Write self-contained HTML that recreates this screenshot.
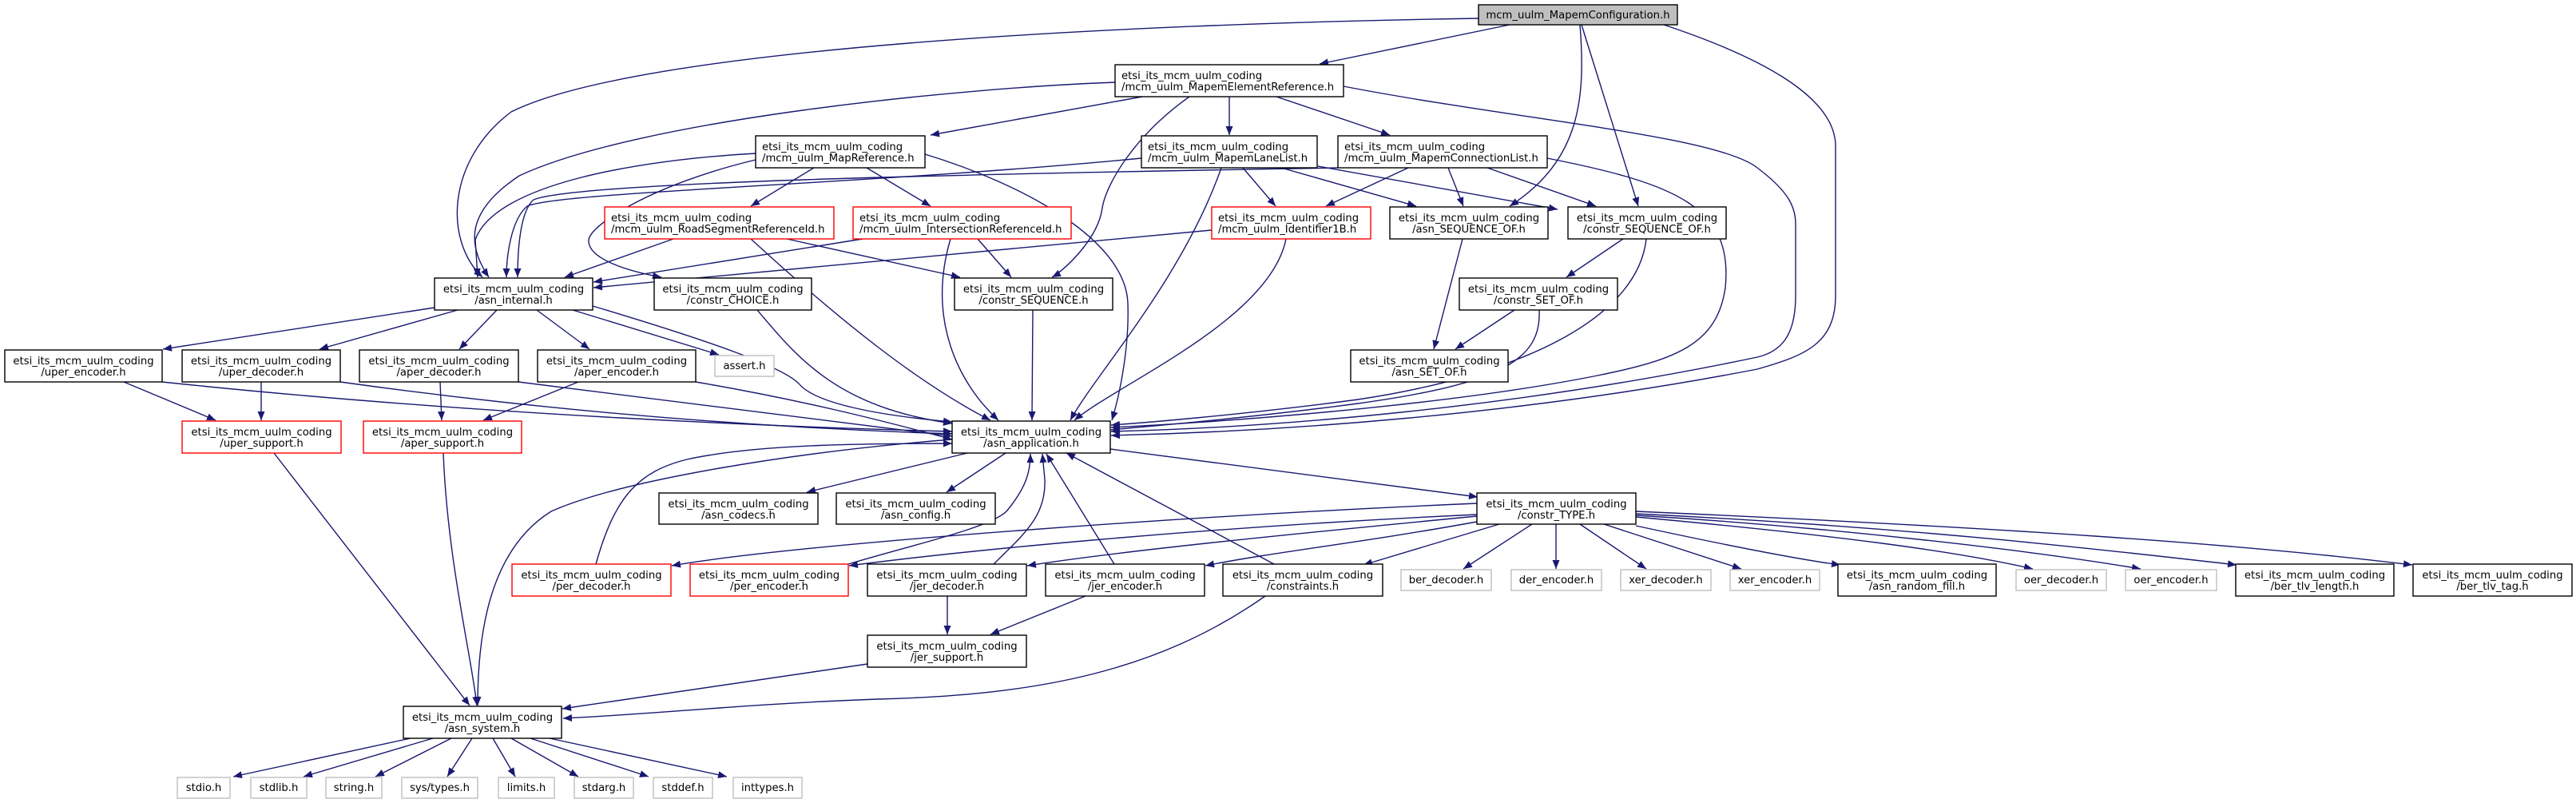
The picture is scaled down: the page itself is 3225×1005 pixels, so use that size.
<!DOCTYPE html>
<html><head><meta charset="utf-8"><style>
html,body{margin:0;padding:0;background:#fff;}
svg{display:block;}
text{font-family:"DejaVu Sans","Liberation Sans",sans-serif;font-size:13.2px;fill:#000;}
.e{fill:none;stroke:#191970;stroke-width:1.4;marker-end:url(#a);}
.n{fill:#fff;stroke:#000;stroke-width:1.4;}
.r{fill:#fff;stroke:#ff0000;stroke-width:1.4;}
.g{fill:#fff;stroke:#bfbfbf;stroke-width:1.4;}
</style></head><body>
<svg width="3225" height="1005" viewBox="0 0 3225 1005" xmlns="http://www.w3.org/2000/svg">
<defs><marker id="a" markerUnits="userSpaceOnUse" markerWidth="12" markerHeight="9" refX="11" refY="4.5" orient="auto"><path d="M0,0 L11,4.5 L0,9 z" fill="#191970"/></marker></defs>
<g>
<path class="e" d="M1890,31 L1652,80"/>
<path class="e" d="M1851,23 C1400,30 800,60 640,140 C560,200 555,300 604,347"/>
<path class="e" d="M1978,31 C1985,120 1980,200 1890,258"/>
<path class="e" d="M1980,31 L2051,258"/>
<path class="e" d="M2083,31 C2200,70 2298,120 2298,183 L2298,370 C2298,430 2260,445 2200,462 C1900,520 1600,540 1391,545"/>
<path class="e" d="M1430,121 L1165,169"/>
<path class="e" d="M1396,103 C1200,110 800,150 650,220 C590,260 580,300 612,347"/>
<path class="e" d="M1539,121 L1539,169"/>
<path class="e" d="M1598,121 L1740,169"/>
<path class="e" d="M1489,121 C1420,170 1385,230 1380,260 C1375,300 1330,340 1317,347"/>
<path class="e" d="M1682,108 C1900,150 2150,170 2200,210 C2240,240 2248,260 2248,280 L2248,370 C2248,420 2230,440 2200,447 C1900,510 1600,535 1391,540"/>
<path class="e" d="M946,192 C800,200 620,230 595,300 L598,347"/>
<path class="e" d="M946,200 C820,230 740,280 737,300 C735,325 790,340 828,347"/>
<path class="e" d="M1019,210 L940,258"/>
<path class="e" d="M1085,210 L1165,258"/>
<path class="e" d="M1158,193 C1280,230 1410,300 1412,380 C1414,440 1400,500 1392,526"/>
<path class="e" d="M1429,198 C1100,230 700,240 660,258 C640,275 634,320 634,347"/>
<path class="e" d="M1675,210 C1200,218 720,228 668,250 C650,265 648,320 648,347"/>
<path class="e" d="M1529,210 C1480,350 1370,470 1340,526"/>
<path class="e" d="M1556,210 L1597,258"/>
<path class="e" d="M1604,210 L1773,258"/>
<path class="e" d="M1650,208 L1950,262"/>
<path class="e" d="M1763,210 L1660,258"/>
<path class="e" d="M1813,210 L1832,258"/>
<path class="e" d="M1862,210 L1998,258"/>
<path class="e" d="M1937,198 C2100,230 2170,260 2160,360 C2150,430 2100,450 2000,470 C1800,510 1500,530 1391,535"/>
<path class="e" d="M843,299 L707,347"/>
<path class="e" d="M985,299 L1202,347"/>
<path class="e" d="M940,299 C1050,400 1150,480 1240,526"/>
<path class="e" d="M1080,299 L743,353"/>
<path class="e" d="M1224,299 L1266,347"/>
<path class="e" d="M1190,299 C1160,400 1200,480 1250,526"/>
<path class="e" d="M1517,288 L743,360"/>
<path class="e" d="M1610,299 C1590,400 1400,480 1345,526"/>
<path class="e" d="M1831,299 L1795,437"/>
<path class="e" d="M2032,299 L1961,347"/>
<path class="e" d="M2061,299 C2050,400 1900,470 1700,500 C1550,520 1420,530 1391,532"/>
<path class="e" d="M1896,388 L1822,437"/>
<path class="e" d="M1927,388 C1930,450 1880,480 1700,505 C1550,525 1420,535 1391,538"/>
<path class="e" d="M1293,388 L1292,526"/>
<path class="e" d="M948,388 C1000,450 1050,510 1192,530"/>
<path class="e" d="M544,385 L204,437"/>
<path class="e" d="M573,388 L400,437"/>
<path class="e" d="M622,388 L575,437"/>
<path class="e" d="M672,388 L738,437"/>
<path class="e" d="M717,388 L900,444"/>
<path class="e" d="M742,383 C900,430 980,460 1000,480 C1020,505 1100,520 1192,528"/>
<path class="e" d="M155,478 L270,526"/>
<path class="e" d="M203,478 C600,520 1000,535 1192,540"/>
<path class="e" d="M327,478 L327,526"/>
<path class="e" d="M426,478 C800,530 1100,540 1192,543"/>
<path class="e" d="M551,478 L553,526"/>
<path class="e" d="M649,478 C900,510 1100,535 1192,546"/>
<path class="e" d="M724,478 L605,526"/>
<path class="e" d="M871,478 C1000,500 1100,525 1192,550"/>
<path class="e" d="M343,567 L588,883"/>
<path class="e" d="M555,567 C560,700 590,820 597,883"/>
<path class="e" d="M1192,550 C1000,565 780,600 690,640 C610,690 598,800 598,883"/>
<path class="e" d="M746,706 C770,620 800,590 860,575 C950,555 1100,555 1192,555"/>
<path class="e" d="M1062,706 C1150,680 1240,660 1260,640 C1285,610 1290,590 1290,568"/>
<path class="e" d="M1244,706 C1280,670 1310,647 1308,600 L1305,568"/>
<path class="e" d="M1395,706 L1310,568"/>
<path class="e" d="M1595,706 L1335,567"/>
<path class="e" d="M1849,630 C1500,645 1000,680 841,708"/>
<path class="e" d="M1849,644 C1500,660 1200,690 1063,708"/>
<path class="e" d="M1849,646 C1600,670 1400,690 1286,708"/>
<path class="e" d="M1849,653 C1700,680 1600,690 1509,708"/>
<path class="e" d="M1877,656 L1707,707"/>
<path class="e" d="M1918,656 L1832,712"/>
<path class="e" d="M1948,656 L1948,712"/>
<path class="e" d="M1978,656 L2061,712"/>
<path class="e" d="M2008,656 L2180,712"/>
<path class="e" d="M2048,658 C2150,680 2250,700 2304,707"/>
<path class="e" d="M2048,647 C2300,670 2450,690 2545,712"/>
<path class="e" d="M2048,645 C2300,660 2550,690 2680,712"/>
<path class="e" d="M2048,643 C2400,660 2650,690 2800,707"/>
<path class="e" d="M2048,640 C2500,660 2800,680 3020,707"/>
<path class="e" d="M1186,746 L1186,794"/>
<path class="e" d="M1359,746 L1240,794"/>
<path class="e" d="M1086,831 L704,887"/>
<path class="e" d="M1584,746 C1450,840 1300,870 1100,875 C950,880 800,895 705,899"/>
<path class="e" d="M1211,567 L1010,616"/>
<path class="e" d="M1259,567 L1185,616"/>
<path class="e" d="M1390,562 L1850,622"/>
<path class="e" d="M514,924 L292,972"/>
<path class="e" d="M542,924 L380,972"/>
<path class="e" d="M565,924 L470,972"/>
<path class="e" d="M591,924 L560,972"/>
<path class="e" d="M617,924 L645,972"/>
<path class="e" d="M640,924 L724,972"/>
<path class="e" d="M664,924 L812,972"/>
<path class="e" d="M688,924 L910,972"/>
</g>
<g>
<rect x="1851" y="6" width="249" height="25" fill="#bfbfbf" stroke="#000" stroke-width="1.4"/>
<text x="1975.5" y="23" text-anchor="middle">mcm_uulm_MapemConfiguration.h</text>

<rect class="n" x="1396" y="81" width="286" height="40"/>
<text x="1404" y="99">etsi_its_mcm_uulm_coding</text><text x="1404" y="113">/mcm_uulm_MapemElementReference.h</text>

<rect class="n" x="946" y="170" width="212" height="40"/>
<text x="954" y="188">etsi_its_mcm_uulm_coding</text><text x="954" y="202">/mcm_uulm_MapReference.h</text>

<rect class="n" x="1429" y="170" width="220" height="40"/>
<text x="1437" y="188">etsi_its_mcm_uulm_coding</text><text x="1437" y="202">/mcm_uulm_MapemLaneList.h</text>

<rect class="n" x="1675" y="170" width="262" height="40"/>
<text x="1683" y="188">etsi_its_mcm_uulm_coding</text><text x="1683" y="202">/mcm_uulm_MapemConnectionList.h</text>

<rect class="r" x="757" y="259" width="287" height="40"/>
<text x="765" y="277">etsi_its_mcm_uulm_coding</text><text x="765" y="291">/mcm_uulm_RoadSegmentReferenceId.h</text>

<rect class="r" x="1068" y="259" width="273" height="40"/>
<text x="1076" y="277">etsi_its_mcm_uulm_coding</text><text x="1076" y="291">/mcm_uulm_IntersectionReferenceId.h</text>

<rect class="r" x="1517" y="259" width="199" height="40"/>
<text x="1525" y="277">etsi_its_mcm_uulm_coding</text><text x="1525" y="291">/mcm_uulm_Identifier1B.h</text>

<rect class="n" x="1740" y="259" width="198" height="40"/>
<text x="1839" y="277" text-anchor="middle">etsi_its_mcm_uulm_coding</text><text x="1839" y="291" text-anchor="middle">/asn_SEQUENCE_OF.h</text>

<rect class="n" x="1963" y="259" width="198" height="40"/>
<text x="2062" y="277" text-anchor="middle">etsi_its_mcm_uulm_coding</text><text x="2062" y="291" text-anchor="middle">/constr_SEQUENCE_OF.h</text>

<rect class="n" x="544" y="348" width="198" height="40"/>
<text x="643" y="366" text-anchor="middle">etsi_its_mcm_uulm_coding</text><text x="643" y="380" text-anchor="middle">/asn_internal.h</text>

<rect class="n" x="819" y="348" width="197" height="40"/>
<text x="917.5" y="366" text-anchor="middle">etsi_its_mcm_uulm_coding</text><text x="917.5" y="380" text-anchor="middle">/constr_CHOICE.h</text>

<rect class="n" x="1195" y="348" width="198" height="40"/>
<text x="1294" y="366" text-anchor="middle">etsi_its_mcm_uulm_coding</text><text x="1294" y="380" text-anchor="middle">/constr_SEQUENCE.h</text>

<rect class="n" x="1827" y="348" width="198" height="40"/>
<text x="1926" y="366" text-anchor="middle">etsi_its_mcm_uulm_coding</text><text x="1926" y="380" text-anchor="middle">/constr_SET_OF.h</text>

<rect class="n" x="6" y="438" width="197" height="40"/>
<text x="104.5" y="456" text-anchor="middle">etsi_its_mcm_uulm_coding</text><text x="104.5" y="470" text-anchor="middle">/uper_encoder.h</text>

<rect class="n" x="228" y="438" width="198" height="40"/>
<text x="327" y="456" text-anchor="middle">etsi_its_mcm_uulm_coding</text><text x="327" y="470" text-anchor="middle">/uper_decoder.h</text>

<rect class="n" x="450" y="438" width="199" height="40"/>
<text x="549.5" y="456" text-anchor="middle">etsi_its_mcm_uulm_coding</text><text x="549.5" y="470" text-anchor="middle">/aper_decoder.h</text>

<rect class="n" x="673" y="438" width="198" height="40"/>
<text x="772" y="456" text-anchor="middle">etsi_its_mcm_uulm_coding</text><text x="772" y="470" text-anchor="middle">/aper_encoder.h</text>

<rect class="g" x="895" y="445" width="74" height="26"/>
<text x="932" y="462" text-anchor="middle">assert.h</text>

<rect class="n" x="1691" y="438" width="197" height="40"/>
<text x="1789.5" y="456" text-anchor="middle">etsi_its_mcm_uulm_coding</text><text x="1789.5" y="470" text-anchor="middle">/asn_SET_OF.h</text>

<rect class="r" x="228" y="527" width="199" height="40"/>
<text x="327.5" y="545" text-anchor="middle">etsi_its_mcm_uulm_coding</text><text x="327.5" y="559" text-anchor="middle">/uper_support.h</text>

<rect class="r" x="455" y="527" width="198" height="40"/>
<text x="554" y="545" text-anchor="middle">etsi_its_mcm_uulm_coding</text><text x="554" y="559" text-anchor="middle">/aper_support.h</text>

<rect class="n" x="1192" y="527" width="198" height="40"/>
<text x="1291" y="545" text-anchor="middle">etsi_its_mcm_uulm_coding</text><text x="1291" y="559" text-anchor="middle">/asn_application.h</text>

<rect class="n" x="825" y="617" width="199" height="39"/>
<text x="924.5" y="635" text-anchor="middle">etsi_its_mcm_uulm_coding</text><text x="924.5" y="649" text-anchor="middle">/asn_codecs.h</text>

<rect class="n" x="1047" y="617" width="199" height="39"/>
<text x="1146.5" y="635" text-anchor="middle">etsi_its_mcm_uulm_coding</text><text x="1146.5" y="649" text-anchor="middle">/asn_config.h</text>

<rect class="n" x="1849" y="617" width="199" height="39"/>
<text x="1948.5" y="635" text-anchor="middle">etsi_its_mcm_uulm_coding</text><text x="1948.5" y="649" text-anchor="middle">/constr_TYPE.h</text>

<rect class="r" x="641" y="706" width="199" height="40"/>
<text x="740.5" y="724" text-anchor="middle">etsi_its_mcm_uulm_coding</text><text x="740.5" y="738" text-anchor="middle">/per_decoder.h</text>

<rect class="r" x="864" y="706" width="198" height="40"/>
<text x="963" y="724" text-anchor="middle">etsi_its_mcm_uulm_coding</text><text x="963" y="738" text-anchor="middle">/per_encoder.h</text>

<rect class="n" x="1086" y="706" width="199" height="40"/>
<text x="1185.5" y="724" text-anchor="middle">etsi_its_mcm_uulm_coding</text><text x="1185.5" y="738" text-anchor="middle">/jer_decoder.h</text>

<rect class="n" x="1309" y="706" width="199" height="40"/>
<text x="1408.5" y="724" text-anchor="middle">etsi_its_mcm_uulm_coding</text><text x="1408.5" y="738" text-anchor="middle">/jer_encoder.h</text>

<rect class="n" x="1531" y="706" width="200" height="40"/>
<text x="1631" y="724" text-anchor="middle">etsi_its_mcm_uulm_coding</text><text x="1631" y="738" text-anchor="middle">/constraints.h</text>

<rect class="g" x="1754" y="713" width="113" height="26"/>
<text x="1810.5" y="730" text-anchor="middle">ber_decoder.h</text>
<rect class="g" x="1892" y="713" width="113" height="26"/>
<text x="1948.5" y="730" text-anchor="middle">der_encoder.h</text>
<rect class="g" x="2029" y="713" width="113" height="26"/>
<text x="2085.5" y="730" text-anchor="middle">xer_decoder.h</text>
<rect class="g" x="2166" y="713" width="112" height="26"/>
<text x="2222" y="730" text-anchor="middle">xer_encoder.h</text>

<rect class="n" x="2301" y="706" width="198" height="40"/>
<text x="2400" y="724" text-anchor="middle">etsi_its_mcm_uulm_coding</text><text x="2400" y="738" text-anchor="middle">/asn_random_fill.h</text>

<rect class="g" x="2524" y="713" width="113" height="26"/>
<text x="2580.5" y="730" text-anchor="middle">oer_decoder.h</text>
<rect class="g" x="2661" y="713" width="114" height="26"/>
<text x="2718" y="730" text-anchor="middle">oer_encoder.h</text>

<rect class="n" x="2799" y="706" width="198" height="40"/>
<text x="2898" y="724" text-anchor="middle">etsi_its_mcm_uulm_coding</text><text x="2898" y="738" text-anchor="middle">/ber_tlv_length.h</text>

<rect class="n" x="3021" y="706" width="199" height="40"/>
<text x="3120.5" y="724" text-anchor="middle">etsi_its_mcm_uulm_coding</text><text x="3120.5" y="738" text-anchor="middle">/ber_tlv_tag.h</text>

<rect class="n" x="1086" y="795" width="199" height="40"/>
<text x="1185.5" y="813" text-anchor="middle">etsi_its_mcm_uulm_coding</text><text x="1185.5" y="827" text-anchor="middle">/jer_support.h</text>

<rect class="n" x="505" y="884" width="198" height="40"/>
<text x="604" y="902" text-anchor="middle">etsi_its_mcm_uulm_coding</text><text x="604" y="916" text-anchor="middle">/asn_system.h</text>

<rect class="g" x="222" y="973" width="66" height="26"/><text x="255" y="990" text-anchor="middle">stdio.h</text>
<rect class="g" x="314" y="973" width="70" height="26"/><text x="349" y="990" text-anchor="middle">stdlib.h</text>
<rect class="g" x="408" y="973" width="70" height="26"/><text x="443" y="990" text-anchor="middle">string.h</text>
<rect class="g" x="503" y="973" width="95" height="26"/><text x="550.5" y="990" text-anchor="middle">sys/types.h</text>
<rect class="g" x="624" y="973" width="70" height="26"/><text x="659" y="990" text-anchor="middle">limits.h</text>
<rect class="g" x="719" y="973" width="74" height="26"/><text x="756" y="990" text-anchor="middle">stdarg.h</text>
<rect class="g" x="818" y="973" width="74" height="26"/><text x="855" y="990" text-anchor="middle">stddef.h</text>
<rect class="g" x="918" y="973" width="86" height="26"/><text x="961" y="990" text-anchor="middle">inttypes.h</text>
</g>
</svg>
</body></html>
